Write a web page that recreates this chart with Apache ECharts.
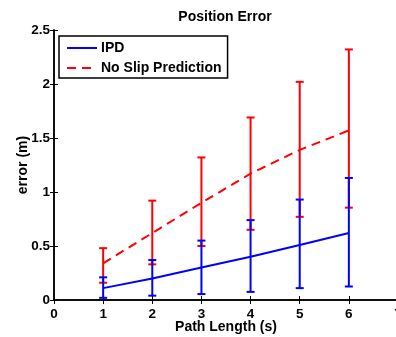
<!DOCTYPE html>
<html>
<head>
<meta charset="utf-8">
<script src="https://cdn.jsdelivr.net/npm/echarts@6/dist/echarts.min.js"></script>
<style>
  html, body { margin: 0; padding: 0; background: #fff; }
  #chart { width: 396px; height: 337px; }
</style>
</head>
<body>
<div id="chart"></div>
<script>
// values
const pathLength = [1, 2, 3, 4, 5, 6];
const ipdMean = [0.11, 0.20, 0.30, 0.40, 0.51, 0.62];
const ipdLow = [0.02, 0.04, 0.055, 0.075, 0.11, 0.125];
const ipdHigh = [0.21, 0.37, 0.55, 0.74, 0.93, 1.13];
const noSlipMean = [0.34, 0.62, 0.90, 1.17, 1.39, 1.57];
const noSlipLow = [0.16, 0.33, 0.50, 0.65, 0.77, 0.855];
const noSlipHigh = [0.48, 0.92, 1.32, 1.69, 2.02, 2.32];

const BLUE = '#0000ff';
const RED = '#ff0000';
const FONT = 'Liberation Sans';

function pairs(xs, ys) {
    return xs.map((x, i) => [x, ys[i]]);
}
function bars(xs, lo, hi) {
    return xs.map((x, i) => [x, lo[i], hi[i]]);
}
function errorBar(color) {
    return function (params, api) {
        let x = api.value(0);
        let lo = api.coord([x, api.value(1)]);
        let hi = api.coord([x, api.value(2)]);
        let w = 4;
        let style = { stroke: color, lineWidth: 2 };
        return {
            type: 'group',
            children: [
                { type: 'line', shape: { x1: lo[0], y1: lo[1], x2: hi[0], y2: hi[1] }, style: style },
                { type: 'line', shape: { x1: lo[0] - w, y1: lo[1], x2: lo[0] + w, y2: lo[1] }, style: style },
                { type: 'line', shape: { x1: hi[0] - w, y1: hi[1], x2: hi[0] + w, y2: hi[1] }, style: style }
            ]
        };
    };
}

let axisLine = { show: true, lineStyle: { color: '#000', width: 1.5 } };
let axisTick = { show: true, inside: true, length: 4, lineStyle: { color: '#000', width: 1 } };
let textBold = { color: '#000', fontFamily: FONT, fontWeight: 'bold', fontSize: 14 };
let tickText = { color: '#000', fontFamily: FONT, fontWeight: 'bold', fontSize: 13.5 };

let myChart = echarts.init(document.getElementById('chart'));
let option = {
    animation: false,
    backgroundColor: '#fff',
    title: {
        text: 'Position Error',
        left: 225,
        textAlign: 'center',
        top: 10,
        padding: 0,
        textStyle: textBold
    },
    grid: { left: 54, right: -2, top: 30, bottom: 37, outerBoundsMode: 'none' },
    legend: {
        orient: 'vertical',
        left: 59,
        top: 36,
        backgroundColor: '#fff',
        borderColor: '#000',
        borderWidth: 1.5,
        borderRadius: 0,
        padding: [5, 6, 3, 7],
        itemWidth: 30,
        itemHeight: 14,
        itemGap: 6,
        itemStyle: { opacity: 0 },
        textStyle: Object.assign({ padding: [0, 0, 0, -1] }, textBold),
        data: ['IPD', 'No Slip Prediction']
    },
    xAxis: [{
        type: 'value',
        min: 0,
        max: 7,
        interval: 1,
        name: 'Path Length (s)',
        nameLocation: 'middle',
        nameGap: 20,
        nameMoveOverlap: false,
        nameTextStyle: textBold,
        axisLine: axisLine,
        axisTick: axisTick,
        axisLabel: Object.assign({ margin: 7 }, tickText),
        splitLine: { show: false }
    }, {
        type: 'value',
        position: 'top',
        min: 0,
        max: 7,
        interval: 1,
        axisLine: axisLine,
        axisTick: axisTick,
        axisLabel: { show: false },
        splitLine: { show: false }
    }],
    yAxis: [{
        type: 'value',
        min: 0,
        max: 2.5,
        interval: 0.5,
        name: 'error (m)',
        nameLocation: 'middle',
        nameGap: 24,
        nameMoveOverlap: false,
        nameTextStyle: textBold,
        axisLine: axisLine,
        axisTick: axisTick,
        axisLabel: Object.assign({ margin: 4 }, tickText),
        splitLine: { show: false }
    }, {
        type: 'value',
        position: 'right',
        min: 0,
        max: 2.5,
        interval: 0.5,
        axisLine: axisLine,
        axisTick: axisTick,
        axisLabel: { show: false },
        splitLine: { show: false }
    }],
    series: [{
        name: 'IPD',
        type: 'line',
        data: pairs(pathLength, ipdMean),
        symbol: 'none',
        color: BLUE,
        lineStyle: { color: BLUE, width: 2 },
        z: 3
    }, {
        name: 'IPD err',
        type: 'custom',
        data: bars(pathLength, ipdLow, ipdHigh),
        renderItem: errorBar(BLUE),
        encode: { x: 0, y: [1, 2] },
        z: 3
    }, {
        name: 'No Slip Prediction',
        type: 'line',
        data: pairs(pathLength, noSlipMean),
        symbol: 'none',
        color: RED,
        lineStyle: { color: RED, width: 2, type: [9, 6] },
        z: 2
    }, {
        name: 'No Slip err',
        type: 'custom',
        data: bars(pathLength, noSlipLow, noSlipHigh),
        renderItem: errorBar(RED),
        encode: { x: 0, y: [1, 2] },
        z: 2
    }]
};
myChart.setOption(option);
</script>
</body>
</html>
